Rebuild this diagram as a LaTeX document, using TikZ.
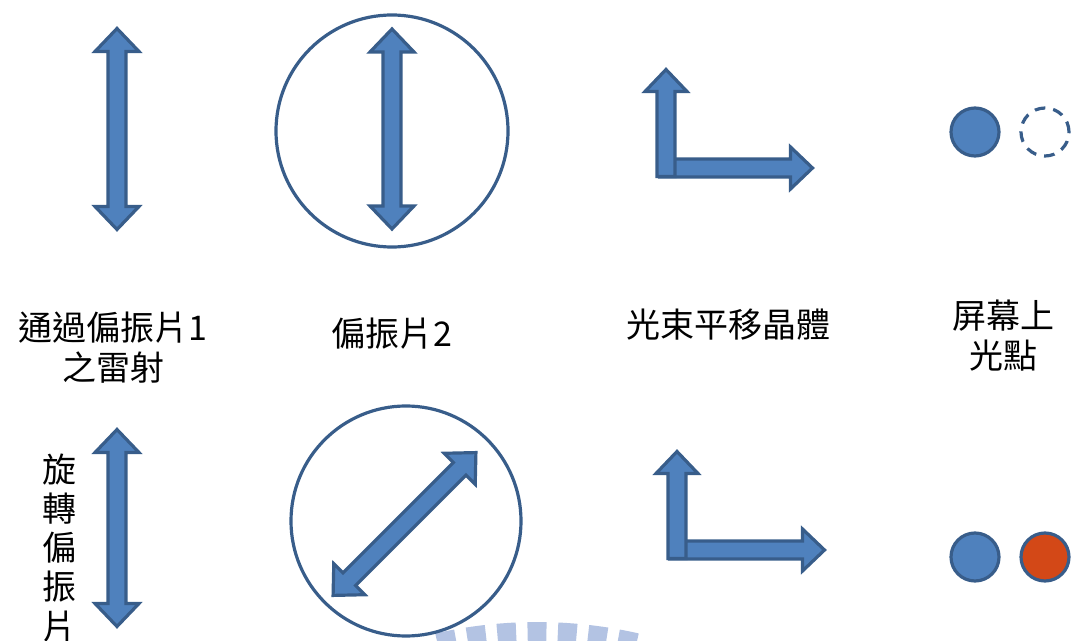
\documentclass[tikz,border=0pt]{standalone}
\usepackage{fontspec}
\newfontfamily\cjk{Noto Sans CJK TC}
\definecolor{afill}{HTML}{4F81BD}
\definecolor{aline}{HTML}{385D8A}
\definecolor{dotred}{HTML}{D34817}
\definecolor{wmark}{HTML}{B3C3E3}
\tikzset{
  arr/.style={fill=afill,draw=aline,line width=2.4pt,line join=miter},
  ring/.style={draw=aline,line width=2.4pt},
  lbl/.style={font=\cjk\fontsize{25.5pt}{30pt}\selectfont,align=center,inner sep=0pt},
  pics/darrow/.style={code={
    \path[arr] (0,-#1) -- (22,{-#1+23}) -- (9,{-#1+23}) -- (9,{#1-23}) -- (22,{#1-23})
      -- (0,#1) -- (-22,{#1-23}) -- (-9,{#1-23}) -- (-9,{-#1+23}) -- (-22,{-#1+23}) -- cycle;
  }},
  pics/sarrow/.style={code={
    \path[arr] (-9,0) -- (-9,{-#1+22}) -- (-21,{-#1+22}) -- (0,-#1) -- (21,{-#1+22})
      -- (9,{-#1+22}) -- (9,0) -- cycle;
  }}
}
\begin{document}
\begin{tikzpicture}[x=0.75pt,y=-0.75pt]
\useasboundingbox (0,0) rectangle (1075,641);
% watermark
\begin{scope}
\clip (0,0) rectangle (1075,641);
\foreach \k in {-3,...,3}{
  \fill[wmark] ({537+460*cos(90+\k*3.86-1.2)},{1082-460*sin(90+\k*3.86-1.2)})
    arc[start angle={-(90+\k*3.86-1.2)},end angle={-(90+\k*3.86+1.2)},radius=460]
    -- ({537+420*cos(90+\k*3.86+1.2)},{1082-420*sin(90+\k*3.86+1.2)})
    arc[start angle={-(90+\k*3.86+1.2)},end angle={-(90+\k*3.86-1.2)},radius=420]
    -- cycle;
}
\end{scope}
% top row
\pic (a1) at (117,129) {darrow=100.5};
\node[ring,circle,minimum size=232*0.75pt,inner sep=0pt] (c1) at (392,131) {};
\pic (a2) at (392,129) {darrow=100};
\pic[rotate=-90] (h1) at (659.5,168) {sarrow=153};
\pic (v1) at (666,176.5) {sarrow=107};
\node[arr,circle,minimum size=48*0.75pt,inner sep=0pt] (d1) at (975,132) {};
\node[ring,dash pattern=on 8pt off 6pt,circle,minimum size=48*0.75pt,inner sep=0pt] (d2) at (1045,132) {};
% labels
\node[lbl] (t1) at (113,348) {通過偏振片1\\之雷射};
\node[lbl] (t2) at (392,334) {偏振片2};
\node[lbl] (t3) at (728,325) {光束平移晶體};
\node[lbl] (t4) at (1003,336) {屏幕上\\光點};
\node[lbl,font=\cjk\fontsize{25.5pt}{29.3pt}\selectfont] (t5) at (59,548) {旋\\轉\\偏\\振\\片};
% bottom row
\pic (a3) at (117,528) {darrow=98.5};
\node[ring,circle,minimum size=230*0.75pt,inner sep=0pt] (c2) at (406,521) {};
\pic[rotate=-45] (a4) at (404.5,524) {darrow=101};
\pic[rotate=-90] (h2) at (669.5,550) {sarrow=155};
\pic (v2) at (677,558.5) {sarrow=107};
\node[arr,circle,minimum size=48*0.75pt,inner sep=0pt] (d3) at (975,557) {};
\node[fill=dotred,draw=aline,line width=2.4pt,circle,minimum size=48*0.75pt,inner sep=0pt] (d4) at (1045,557) {};
\end{tikzpicture}
\end{document}
